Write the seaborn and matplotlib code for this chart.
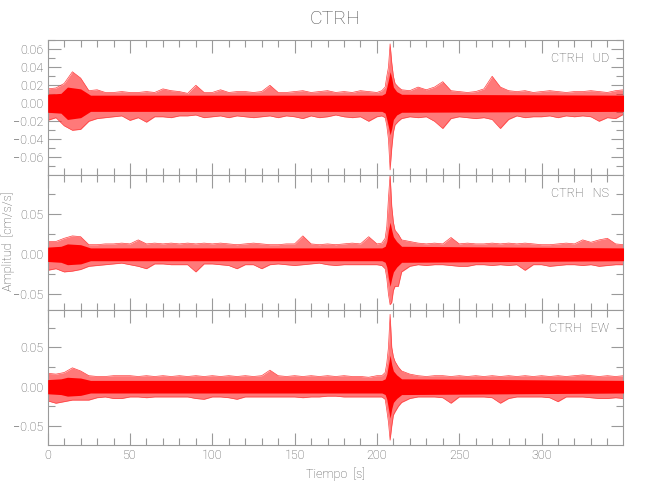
import matplotlib
matplotlib.use('Agg')
import matplotlib.pyplot as plt
import seaborn as sns
import pandas as pd
from matplotlib.ticker import MultipleLocator, FuncFormatter

# --- data (peak envelope of each trace, cm/s/s) ---
times = [0, 5, 10, 15, 20, 25, 30, 35, 40, 45, 50, 55, 60, 65, 70, 75, 80, 85,
         90, 95, 100, 105, 110, 115, 120, 125, 130, 135, 140, 145, 150, 155,
         160, 165, 170, 175, 180, 185, 190, 195, 200, 203, 205, 206, 207, 208,
         209, 210, 211, 213, 215, 220, 225, 230, 235, 240, 245, 250, 255, 260,
         265, 270, 275, 280, 285, 290, 295, 300, 305, 310, 315, 320, 325, 330,
         335, 340, 345, 350]

ud_upper = [0.016, 0.017, 0.022, 0.035, 0.028, 0.014, 0.015, 0.012, 0.012, 0.013,
            0.012, 0.012, 0.013, 0.012, 0.016, 0.014, 0.013, 0.011, 0.020, 0.012,
            0.012, 0.015, 0.012, 0.013, 0.013, 0.012, 0.013, 0.020, 0.012, 0.012,
            0.013, 0.014, 0.012, 0.013, 0.014, 0.012, 0.013, 0.012, 0.014, 0.013,
            0.012, 0.014, 0.018, 0.030, 0.040, 0.066, 0.045, 0.030, 0.022, 0.018,
            0.015, 0.014, 0.018, 0.015, 0.018, 0.024, 0.014, 0.013, 0.012, 0.013,
            0.016, 0.030, 0.018, 0.014, 0.013, 0.014, 0.012, 0.013, 0.014, 0.013,
            0.012, 0.013, 0.013, 0.014, 0.013, 0.012, 0.014, 0.015]
ud_lower = [-0.019, -0.016, -0.025, -0.030, -0.029, -0.020, -0.017, -0.016, -0.015, -0.014,
            -0.019, -0.016, -0.021, -0.015, -0.015, -0.016, -0.014, -0.014, -0.013, -0.016,
            -0.015, -0.014, -0.016, -0.014, -0.015, -0.016, -0.015, -0.014, -0.016, -0.014,
            -0.015, -0.017, -0.014, -0.016, -0.015, -0.013, -0.015, -0.016, -0.015, -0.020,
            -0.015, -0.014, -0.016, -0.025, -0.040, -0.074, -0.050, -0.032, -0.024, -0.020,
            -0.017, -0.015, -0.016, -0.015, -0.020, -0.028, -0.017, -0.015, -0.016, -0.017,
            -0.016, -0.018, -0.028, -0.018, -0.014, -0.016, -0.015, -0.015, -0.014, -0.016,
            -0.014, -0.015, -0.014, -0.015, -0.020, -0.016, -0.017, -0.012]

ns_upper = [0.016, 0.016, 0.020, 0.023, 0.022, 0.012, 0.012, 0.013, 0.013, 0.014,
            0.013, 0.018, 0.013, 0.014, 0.013, 0.014, 0.013, 0.014, 0.013, 0.014,
            0.013, 0.014, 0.013, 0.012, 0.013, 0.014, 0.013, 0.012, 0.012, 0.013,
            0.013, 0.023, 0.013, 0.012, 0.013, 0.012, 0.013, 0.014, 0.013, 0.022,
            0.013, 0.014, 0.020, 0.035, 0.070, 0.100, 0.060, 0.040, 0.030, 0.025,
            0.018, 0.016, 0.014, 0.013, 0.014, 0.013, 0.021, 0.013, 0.014, 0.013,
            0.013, 0.014, 0.013, 0.014, 0.013, 0.014, 0.013, 0.012, 0.012, 0.013,
            0.014, 0.013, 0.018, 0.015, 0.018, 0.020, 0.013, 0.012]
ns_lower = [-0.020, -0.018, -0.022, -0.021, -0.019, -0.015, -0.014, -0.013, -0.012, -0.011,
            -0.013, -0.015, -0.018, -0.012, -0.012, -0.013, -0.013, -0.013, -0.022, -0.012,
            -0.012, -0.013, -0.014, -0.018, -0.013, -0.013, -0.018, -0.013, -0.012, -0.013,
            -0.014, -0.013, -0.012, -0.011, -0.013, -0.014, -0.013, -0.013, -0.013, -0.013,
            -0.013, -0.014, -0.018, -0.030, -0.050, -0.063, -0.060, -0.045, -0.040, -0.040,
            -0.022, -0.015, -0.013, -0.014, -0.013, -0.013, -0.014, -0.015, -0.015, -0.013,
            -0.013, -0.014, -0.013, -0.014, -0.013, -0.020, -0.013, -0.013, -0.015, -0.014,
            -0.013, -0.013, -0.014, -0.013, -0.015, -0.014, -0.013, -0.013]

ew_upper = [0.017, 0.016, 0.018, 0.024, 0.020, 0.014, 0.013, 0.013, 0.014, 0.014,
            0.014, 0.013, 0.014, 0.013, 0.014, 0.013, 0.014, 0.013, 0.014, 0.013,
            0.014, 0.013, 0.014, 0.013, 0.014, 0.013, 0.014, 0.021, 0.014, 0.013,
            0.014, 0.013, 0.014, 0.013, 0.014, 0.013, 0.014, 0.013, 0.013, 0.012,
            0.014, 0.014, 0.018, 0.030, 0.050, 0.092, 0.050, 0.038, 0.032, 0.025,
            0.020, 0.016, 0.014, 0.013, 0.014, 0.014, 0.013, 0.014, 0.013, 0.014,
            0.013, 0.014, 0.013, 0.014, 0.013, 0.014, 0.013, 0.014, 0.013, 0.014,
            0.013, 0.014, 0.015, 0.014, 0.013, 0.014, 0.013, 0.014]
ew_lower = [-0.018, -0.021, -0.019, -0.017, -0.017, -0.017, -0.014, -0.013, -0.015, -0.015,
            -0.013, -0.013, -0.014, -0.013, -0.013, -0.013, -0.013, -0.013, -0.015, -0.016,
            -0.013, -0.013, -0.014, -0.016, -0.013, -0.013, -0.013, -0.013, -0.013, -0.013,
            -0.013, -0.014, -0.013, -0.013, -0.012, -0.012, -0.013, -0.013, -0.013, -0.013,
            -0.013, -0.013, -0.016, -0.030, -0.045, -0.068, -0.050, -0.036, -0.032, -0.025,
            -0.020, -0.015, -0.013, -0.013, -0.013, -0.014, -0.021, -0.013, -0.013, -0.013,
            -0.013, -0.014, -0.021, -0.015, -0.013, -0.013, -0.013, -0.013, -0.014, -0.019,
            -0.013, -0.013, -0.013, -0.014, -0.015, -0.015, -0.014, -0.015]

# dense core of each trace (typical half width)
core_times = [0, 8, 12, 20, 26, 203, 205, 206, 207, 208, 209, 210, 212, 215, 350]
ud_core = [0.010, 0.011, 0.018, 0.016, 0.009, 0.009, 0.011, 0.018, 0.026, 0.035, 0.028, 0.018, 0.013, 0.010, 0.009]
ns_core = [0.009, 0.010, 0.013, 0.012, 0.008, 0.008, 0.010, 0.016, 0.030, 0.040, 0.030, 0.022, 0.016, 0.010, 0.008]
ew_core = [0.009, 0.010, 0.012, 0.011, 0.008, 0.008, 0.010, 0.016, 0.028, 0.040, 0.028, 0.020, 0.015, 0.010, 0.008]

components = ['UD', 'NS', 'EW']
station = 'CTRH'
ylims = [(-0.0797, 0.0703), (-0.0696, 0.0991), (-0.0741, 0.0975)]
ymajor = [0.02, 0.05, 0.05]
yminor = [0.01, 0.025, 0.025]

text_gray = '#505050'
axis_gray = '#9a9a9a'

sns.set_style('ticks')
plt.rcParams['font.family'] = ['Roboto', 'DejaVu Sans']
plt.rcParams['font.weight'] = 'light'
plt.rcParams['axes.labelweight'] = 'light'

fig, axes = plt.subplots(3, 1, figsize=(6.5, 5), dpi=100, sharex=True)
fig.subplots_adjust(left=0.0734, right=0.959, top=0.92, bottom=0.11, hspace=0)

envelopes = [(ud_upper, ud_lower, ud_core), (ns_upper, ns_lower, ns_core),
             (ew_upper, ew_lower, ew_core)]


def fmt(v, pos):
    s = '%.2f' % abs(v)
    return ('\u2212' + s) if v < -1e-9 else s


for i, ax in enumerate(axes):
    upper, lower, core = envelopes[i]
    df = pd.DataFrame({'t': times, 'upper': upper, 'lower': lower})
    cdf = pd.DataFrame({'t': core_times, 'core': core})
    ax.axhline(0, color='black', lw=0.6, zorder=1)
    ax.fill_between(df['t'], df['lower'], df['upper'], color='#ff2020', alpha=0.6,
                    lw=0, zorder=2)
    sns.lineplot(data=df, x='t', y='upper', ax=ax, color='#ff4040', lw=0.5, zorder=2)
    sns.lineplot(data=df, x='t', y='lower', ax=ax, color='#ff4040', lw=0.5, zorder=2)
    ax.fill_between(cdf['t'], [-c for c in cdf['core']], cdf['core'], color='red',
                    lw=0, zorder=3)

    ax.set_xlim(0, 349.7)
    ax.set_ylim(*ylims[i])
    ax.xaxis.set_major_locator(MultipleLocator(50))
    ax.xaxis.set_minor_locator(MultipleLocator(10))
    ax.yaxis.set_major_locator(MultipleLocator(ymajor[i]))
    ax.yaxis.set_minor_locator(MultipleLocator(yminor[i]))
    ax.yaxis.set_major_formatter(FuncFormatter(fmt))
    ax.tick_params(which='both', direction='in', top=True, right=True,
                   color=axis_gray, labelcolor=text_gray, labelsize=9, width=0.8)
    ax.tick_params(which='major', length=9, pad=3)
    ax.tick_params(which='minor', length=5)
    for sp in ax.spines.values():
        sp.set_visible(True)
        sp.set_color(axis_gray)
        sp.set_linewidth(0.8)
    ax.set_xlabel('')
    ax.set_ylabel('')
    ax.text(0.975, 0.86, station + '   ' + components[i], transform=ax.transAxes,
            ha='right', va='center', fontsize=9, color=text_gray)
    if i < 2:
        ax.tick_params(labelbottom=False)

axes[2].set_xlabel('Tiempo  [s]', fontsize=9, color=text_gray, labelpad=4,
                   fontweight='light')
fig.text(0.012, 0.518, 'Amplitud  [cm/s/s]', rotation=90, ha='center', va='center',
         fontsize=9, color=text_gray)
fig.text(0.516, 0.962, station, ha='center', va='center', fontsize=14, color=text_gray)

fig.savefig('out.png', dpi=100)
